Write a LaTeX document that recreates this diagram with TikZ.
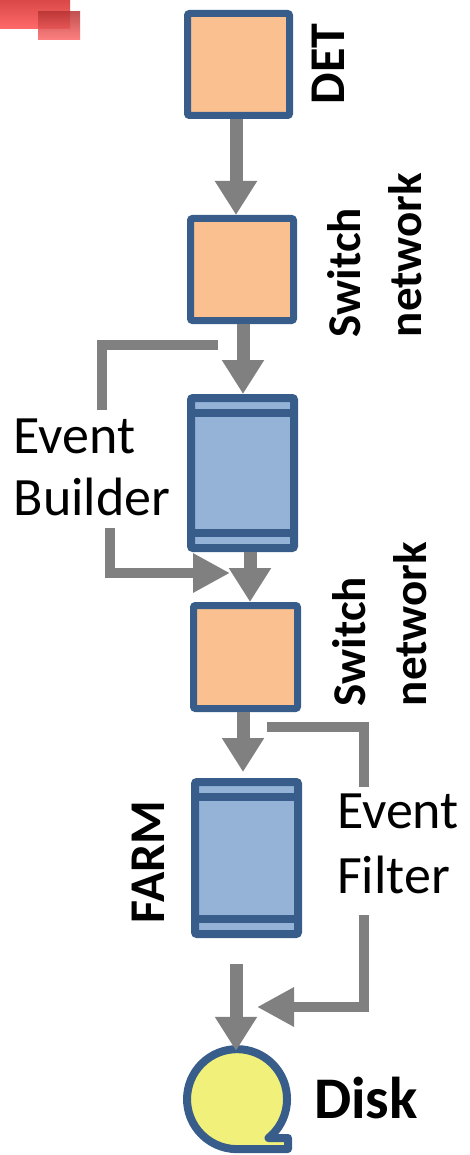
\documentclass[tikz,border=0pt]{standalone}
\usepackage{fontspec}
\newfontfamily\cf{Carlito}
\usetikzlibrary{arrows.meta,calc}
\definecolor{dblue}{HTML}{385D8A}
\definecolor{orng}{HTML}{FAC090}
\definecolor{lblue}{HTML}{95B3D7}
\definecolor{ylw}{HTML}{F0F07A}
\definecolor{agray}{HTML}{808080}
\definecolor{redA}{HTML}{DA4848}
\definecolor{redB}{HTML}{FF6A6A}
\definecolor{redC}{HTML}{B83434}
\tikzset{
  sbox/.style={draw=dblue, line width=7pt, fill=orng, minimum width=102pt, minimum height=102pt, inner sep=0pt, rounded corners=2pt},
  fbox/.style={draw=dblue, line width=8pt, fill=lblue, minimum width=103pt, minimum height=150pt, inner sep=0pt, rounded corners=2pt},
  band/.style={draw=dblue, line width=8pt},
  flow/.style={draw=agray, line width=13pt, -{Triangle[width=40pt,length=34pt]}},
  brk/.style={draw=agray, line width=10pt},
  brka/.style={brk, -{Triangle[width=37pt,length=37pt]}},
  lblb/.style={font=\cf\bfseries\fontsize{50}{61}\selectfont, inner sep=0pt, align=left},
  lblr/.style={font=\cf\fontsize{54}{62}\selectfont, inner sep=0pt, align=left}
}
\begin{document}
\begin{tikzpicture}[x={(1pt,0pt)}, y={(0pt,-1pt)}]
\useasboundingbox (0,0) rectangle (469,1155);
% red marks
\shade[top color=redA, bottom color=redB] (0,0) rectangle (70,29);
\shade[top color=redC, bottom color=redB, opacity=0.85] (38,12) rectangle (80,40);
% boxes
\node[sbox] (det) at (238.5,64.5) {};
\node[sbox, minimum width=103pt] (sw1) at (242,269.5) {};
\node[fbox] (eb) at (242.5,473) {};
\draw[band] ($(eb.north west)+(4,19)$) -- ($(eb.north east)+(-4,19)$);
\draw[band] ($(eb.south west)+(4,-19)$) -- ($(eb.south east)+(-4,-19)$);
\node[sbox, minimum width=104pt, minimum height=103pt] (sw2) at (245.5,657) {};
\node[fbox, minimum height=152pt] (farm) at (246.5,858) {};
\draw[band] ($(farm.north west)+(4,18.5)$) -- ($(farm.north east)+(-4,18.5)$);
\draw[band] ($(farm.south west)+(4,-19.5)$) -- ($(farm.south east)+(-4,-19.5)$);
% disk
\node[circle, minimum size=108pt, inner sep=0pt] (disk) at (237,1099) {};
\draw[draw=dblue, line width=8pt, fill=ylw, line join=round]
  ($(disk.center)+(0,50)$) -- ++(51,0) -- ++(0,-11) -- ++(-19.5,0)
  arc[start angle=51, end angle=-270, radius=50] -- cycle;
% x positions for arrows
\coordinate (x1) at (236,0);
\coordinate (x2) at (243,0);
\coordinate (x3) at (250,0);
\coordinate (x4) at (243,0);
\coordinate (x5) at (236,0);
\draw[flow] (det.south -| x1) -- (sw1.north -| x1);
\draw[flow] (sw1.south -| x2) -- (eb.north -| x2);
\draw[flow] (eb.south -| x3) -- (sw2.north -| x3);
\draw[flow, shorten >=6pt] (sw2.south -| x4) -- (farm.north -| x4);
\draw[flow, shorten <=26pt, shorten >=-6pt] (farm.south -| x5) -- (disk.north -| x5);
% brackets
\coordinate (ebt1) at (218,345);
\coordinate (ebt2) at (102,410);
\coordinate (ebb1) at (110,528);
\coordinate (ebb2) at (230,573);
\coordinate (eft1) at (267,727);
\coordinate (eft2) at (364,787);
\coordinate (efb1) at (364,915);
\coordinate (efb2) at (257,1007);
\draw[brk] (ebt1) -| (ebt2);
\draw[brka] (ebb1) |- (ebb2);
\draw[brk] (eft1) -| (eft2);
\draw[brka] (efb1) |- (efb2);
% labels
\node[lblb, rotate=90] (tdet) at (328,64) {DET};
\node[lblb, rotate=90, font=\cf\bfseries\fontsize{47}{61}\selectfont] (tsw1) at (375,255) {Switch\\network};
\node[lblb, rotate=90, font=\cf\bfseries\fontsize{47}{61}\selectfont] (tsw2) at (380,624) {Switch\\network};
\node[lblb, rotate=90] (tfarm) at (148,862) {FARM};
\node[lblr] (teb) at (92,467) {Event\\Builder};
\node[lblr, font=\cf\fontsize{54}{65}\selectfont] (tef) at (398,844) {Event\\Filter};
\node[lblb, font=\cf\bfseries\fontsize{59}{61}\selectfont] (tdisk) at (366,1098) {Disk};
\end{tikzpicture}
\end{document}
